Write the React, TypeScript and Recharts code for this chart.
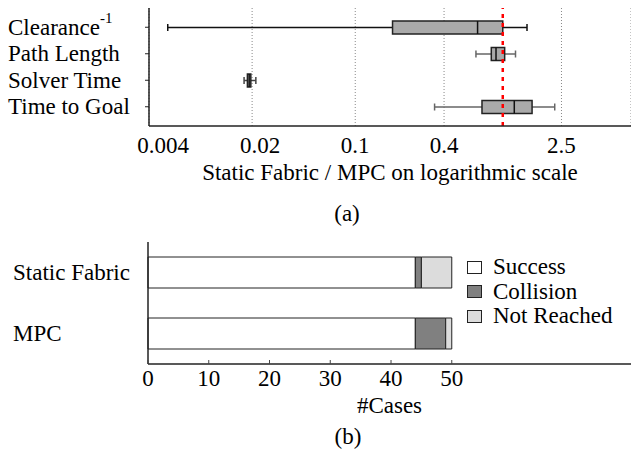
import React from 'react';
import {
  ComposedChart,
  BarChart,
  Bar,
  XAxis,
  YAxis,
  CartesianGrid,
  ReferenceLine,
} from 'recharts';

// (a) ratio Static Fabric / MPC, box plot stats per metric
const metrics = ['Clearance', 'Path Length', 'Solver Time', 'Time to Goal'];
const whiskerLow = [0.00536, 0.658, 0.01764, 0.345];
const quart1 = [0.179, 0.836, 0.01858, 0.723];
const medians = [0.675, 0.9, 0.0191, 1.197];
const quart3 = [1.0, 1.03, 0.0196, 1.58];
const whiskerHigh = [1.46, 1.22, 0.0212, 2.25];
const logTicks = [0.004, 0.02, 0.1, 0.4, 2.5];

// (b) outcome counts
const planners = ['Static Fabric', 'MPC'];
const success = [44, 44];
const collision = [1, 5];
const notReached = [5, 1];
const caseTicks = [0, 10, 20, 30, 40, 50];

const FONT = "'Liberation Serif', Tinos, 'Times New Roman', Times, 'DejaVu Serif', 'Noto Serif', serif";
const whiskerColors = ['#111', '#666', '#444', '#666'];
// the two leftmost log labels sit a bit right of their gridlines in the original
const tickShift: Record<string, number> = { '0.004': 14, '0.02': 8 };

const boxData = metrics.map((m, i) => ({
  metric: m,
  range: [whiskerLow[i], whiskerHigh[i]],
  q1: quart1[i],
  med: medians[i],
  q3: quart3[i],
}));

const outcomeData = planners.map((p, i) => ({
  planner: p,
  success: success[i],
  collision: collision[i],
  notReached: notReached[i],
}));

const textStyle = { fontFamily: FONT, fontSize: 23 };

const BoxShape = (props: any) => {
  const { x, y, width, height, payload, index } = props;
  const lo = Math.log(payload.range[0]);
  const hi = Math.log(payload.range[1]);
  const px = (v: number) => x + (width * (Math.log(v) - lo)) / (hi - lo);
  const cy = y + height / 2;
  const wc = whiskerColors[index] || '#444';
  return (
    <g>
      <line x1={x} x2={px(payload.q1)} y1={cy} y2={cy} stroke={wc} strokeWidth={1.5} />
      <line x1={px(payload.q3)} x2={x + width} y1={cy} y2={cy} stroke={wc} strokeWidth={1.5} />
      <line x1={x} x2={x} y1={cy - 3.5} y2={cy + 3.5} stroke={wc} strokeWidth={1.5} />
      <line x1={x + width} x2={x + width} y1={cy - 3.5} y2={cy + 3.5} stroke={wc} strokeWidth={1.5} />
      <rect
        x={px(payload.q1)}
        y={y}
        width={px(payload.q3) - px(payload.q1)}
        height={height}
        fill="#aaaaaa"
        stroke="#222"
        strokeWidth={1.5}
      />
      <line x1={px(payload.med)} x2={px(payload.med)} y1={y} y2={y + height} stroke="#111" strokeWidth={1.5} />
    </g>
  );
};

const MetricTick = (props: any) => {
  const { y, payload } = props;
  return (
    <text x={8} y={y} dominantBaseline="central" style={textStyle} fill="#000">
      {payload.value}
      {payload.value === 'Clearance' && (
        <tspan style={{ fontSize: 15 }} dy={-9}>
          -1
        </tspan>
      )}
    </text>
  );
};

const LogTick = (props: any) => {
  const { x, payload } = props;
  const label = String(payload.value);
  return (
    <text
      x={x + (tickShift[label] || 0)}
      y={145}
      textAnchor="middle"
      dominantBaseline="central"
      style={textStyle}
      fill="#000"
    >
      {label}
    </text>
  );
};

const PlannerTick = (props: any) => {
  const { y, payload } = props;
  return (
    <text x={13} y={y} dominantBaseline="central" style={textStyle} fill="#000">
      {payload.value}
    </text>
  );
};

const CaseTick = (props: any) => {
  const { x, payload } = props;
  return (
    <g>
      <line x1={x} x2={x} y1={130} y2={134} stroke="#444" />
      <text x={x} y={148} textAnchor="middle" dominantBaseline="central" style={textStyle} fill="#000">
        {payload.value}
      </text>
    </g>
  );
};

const legendItems = [
  { name: 'Success', color: '#ffffff' },
  { name: 'Collision', color: '#808080' },
  { name: 'Not Reached', color: '#dcdcdc' },
];

const OutcomeLegend = () => (
  <div style={{ position: 'absolute', left: 467, top: 255, fontFamily: FONT, fontSize: 23, color: '#000' }}>
    {legendItems.map((it) => (
      <div key={it.name} style={{ display: 'flex', alignItems: 'center', height: 24.5 }}>
        <span
          style={{
            display: 'inline-block',
            width: 13,
            height: 11,
            background: it.color,
            border: '1px solid #222',
            marginRight: 11,
          }}
        />
        <span style={{ lineHeight: '24px' }}>{it.name}</span>
      </div>
    ))}
  </div>
);

const caption = (text: string, top: number, left: number) => (
  <div
    style={{
      position: 'absolute',
      top,
      left,
      width: 40,
      textAlign: 'center',
      fontFamily: FONT,
      fontSize: 23,
      lineHeight: '26px',
      color: '#000',
    }}
  >
    {text}
  </div>
);

export default function App() {
  return (
    <div style={{ position: 'absolute', left: 0, top: 0, width: 631, height: 458, background: '#fff' }}>
      <div style={{ position: 'absolute', left: 0, top: 0 }}>
        <ComposedChart
          width={631}
          height={190}
          layout="vertical"
          data={boxData}
          margin={{ top: 8, right: 0, left: 0, bottom: 0 }}
        >
          <CartesianGrid horizontal={false} stroke="#888" strokeDasharray="1 2" />
          <XAxis
            type="number"
            scale="log"
            dataKey="q1"
            domain={[0.004, 7.4]}
            allowDataOverflow
            ticks={logTicks}
            tick={<LogTick />}
            tickLine={false}
            height={64}
            axisLine={{ stroke: '#222', strokeWidth: 1.5 }}
            label={{
              content: ({ viewBox }: any) => (
                <text
                  x={viewBox.x + viewBox.width / 2}
                  y={172}
                  textAnchor="middle"
                  dominantBaseline="central"
                  style={textStyle}
                  fill="#000"
                >
                  Static Fabric / MPC on logarithmic scale
                </text>
              ),
            }}
          />
          <YAxis
            type="category"
            dataKey="metric"
            width={149}
            padding={{ top: 6, bottom: 6 }}
            tick={<MetricTick />}
            tickSize={4}
            tickLine={{ stroke: '#222' }}
            axisLine={{ stroke: '#222', strokeWidth: 1.5 }}
          />
          <Bar dataKey="range" barSize={13} shape={<BoxShape />} isAnimationActive={false} />
          <ReferenceLine x={1} stroke="#ff0000" strokeWidth={2.5} strokeDasharray="4 5" />
        </ComposedChart>
      </div>
      {caption('(a)', 201, 327)}
      <div style={{ position: 'absolute', left: 0, top: 230 }}>
        <BarChart
          width={631}
          height={200}
          layout="vertical"
          data={outcomeData}
          margin={{ top: 12, right: 0, left: 0, bottom: 0 }}
        >
          <XAxis
            type="number"
            domain={[0, 79.5]}
            ticks={caseTicks}
            tick={<CaseTick />}
            tickLine={false}
            height={66}
            axisLine={{ stroke: '#222', strokeWidth: 1.5 }}
            label={{
              content: ({ viewBox }: any) => (
                <text
                  x={viewBox.x + viewBox.width / 2}
                  y={175}
                  textAnchor="middle"
                  dominantBaseline="central"
                  style={textStyle}
                  fill="#000"
                >
                  #Cases
                </text>
              ),
            }}
          />
          <YAxis
            type="category"
            dataKey="planner"
            width={148}
            tick={<PlannerTick />}
            tickLine={false}
            axisLine={{ stroke: '#222', strokeWidth: 1.5 }}
          />
          <Bar dataKey="success" stackId="s" fill="#ffffff" stroke="#222" barSize={31} isAnimationActive={false} />
          <Bar dataKey="collision" stackId="s" fill="#808080" stroke="#222" barSize={31} isAnimationActive={false} />
          <Bar dataKey="notReached" stackId="s" fill="#dcdcdc" stroke="#222" barSize={31} isAnimationActive={false} />
        </BarChart>
      </div>
      <OutcomeLegend />
      {caption('(b)', 424, 328)}
    </div>
  );
}
